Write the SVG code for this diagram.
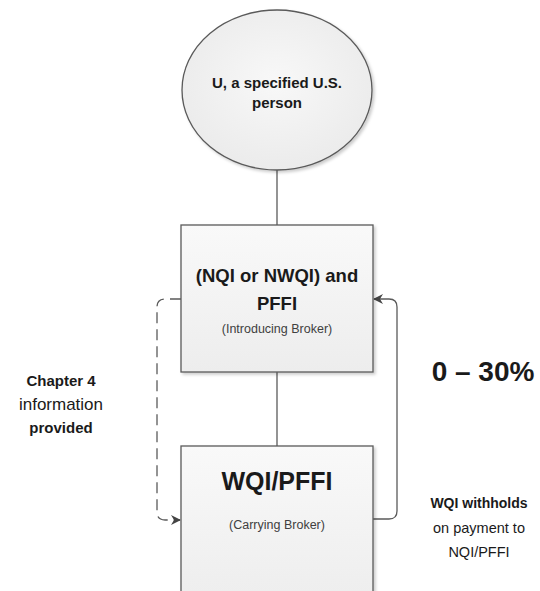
<svg xmlns="http://www.w3.org/2000/svg" width="540" height="591" viewBox="0 0 540 591">
<style>
text{font-family:"Liberation Sans",Arial,sans-serif;fill:#1a1a1a;text-anchor:middle}
.b{font-weight:bold}
.sm{font-size:12.5px;fill:#404040}
.shape{stroke:#5a5a5a;stroke-width:1.3}
.conn{fill:none;stroke:#5a5a5a;stroke-width:1.3}
.dash{stroke-dasharray:11 6}
</style>
<defs>
<linearGradient id="gBox" x1="0" y1="0" x2="0" y2="1">
<stop offset="0" stop-color="#f9f9f9"/>
<stop offset="1" stop-color="#ededed"/>
</linearGradient>
<radialGradient id="gEl" cx="0.5" cy="0.45" r="0.6">
<stop offset="0" stop-color="#f8f8f8"/>
<stop offset="1" stop-color="#eaeaea"/>
</radialGradient>
<filter id="sh" x="-10%" y="-10%" width="130%" height="130%">
<feDropShadow dx="2" dy="2" stdDeviation="1.5" flood-color="#000" flood-opacity="0.2"/>
</filter>
<marker id="arr" viewBox="0 0 10 10" refX="9" refY="5" markerWidth="10" markerHeight="10" markerUnits="userSpaceOnUse" orient="auto">
<path d="M0,0 L10,5 L0,10 L3,5 Z" fill="#444"/>
</marker>
</defs>
<g id="connectors">
<line class="conn" x1="277" y1="170" x2="277" y2="225"/>
<line class="conn" x1="277" y1="372" x2="277" y2="446"/>
<path class="conn dash" d="M181,299 H165 Q157,299 157,307 V512 Q157,520 165,520 H180" marker-end="url(#arr)"/>
<path class="conn" d="M373,519 H389 Q397,519 397,511 V307 Q397,299 389,299 H374" marker-end="url(#arr)"/>
</g>
<g id="node-u">
<ellipse class="shape" cx="277" cy="90" rx="95" ry="80" fill="url(#gEl)" filter="url(#sh)"/>
<text class="b" x="277" y="88" font-size="15">U, a specified U.S.</text>
<text class="b" x="277" y="108" font-size="15">person</text>
</g>
<g id="node-introducing">
<rect class="shape" x="181" y="225" width="192" height="147" fill="url(#gBox)" filter="url(#sh)"/>
<text class="b" x="277" y="282" font-size="18.5">(NQI or NWQI) and</text>
<text class="b" x="277" y="310" font-size="18.5">PFFI</text>
<text class="sm" x="277" y="333">(Introducing Broker)</text>
</g>
<g id="node-carrying">
<rect class="shape" x="181" y="446" width="192" height="160" fill="url(#gBox)" filter="url(#sh)"/>
<text class="b" x="277" y="490" font-size="25">WQI/PFFI</text>
<text class="sm" x="277" y="529">(Carrying Broker)</text>
</g>
<g id="label-chapter4">
<text class="b" x="61" y="386" font-size="15">Chapter 4</text>
<text x="61" y="410" font-size="17">information</text>
<text class="b" x="61" y="433" font-size="15">provided</text>
</g>
<g id="label-rate">
<text class="b" x="483" y="381" font-size="28">0 – 30%</text>
</g>
<g id="label-withholds">
<text class="b" x="479" y="508" font-size="14">WQI withholds</text>
<text x="479" y="533" font-size="14.5">on payment to</text>
<text x="479" y="557" font-size="14.5">NQI/PFFI</text>
</g>
</svg>
